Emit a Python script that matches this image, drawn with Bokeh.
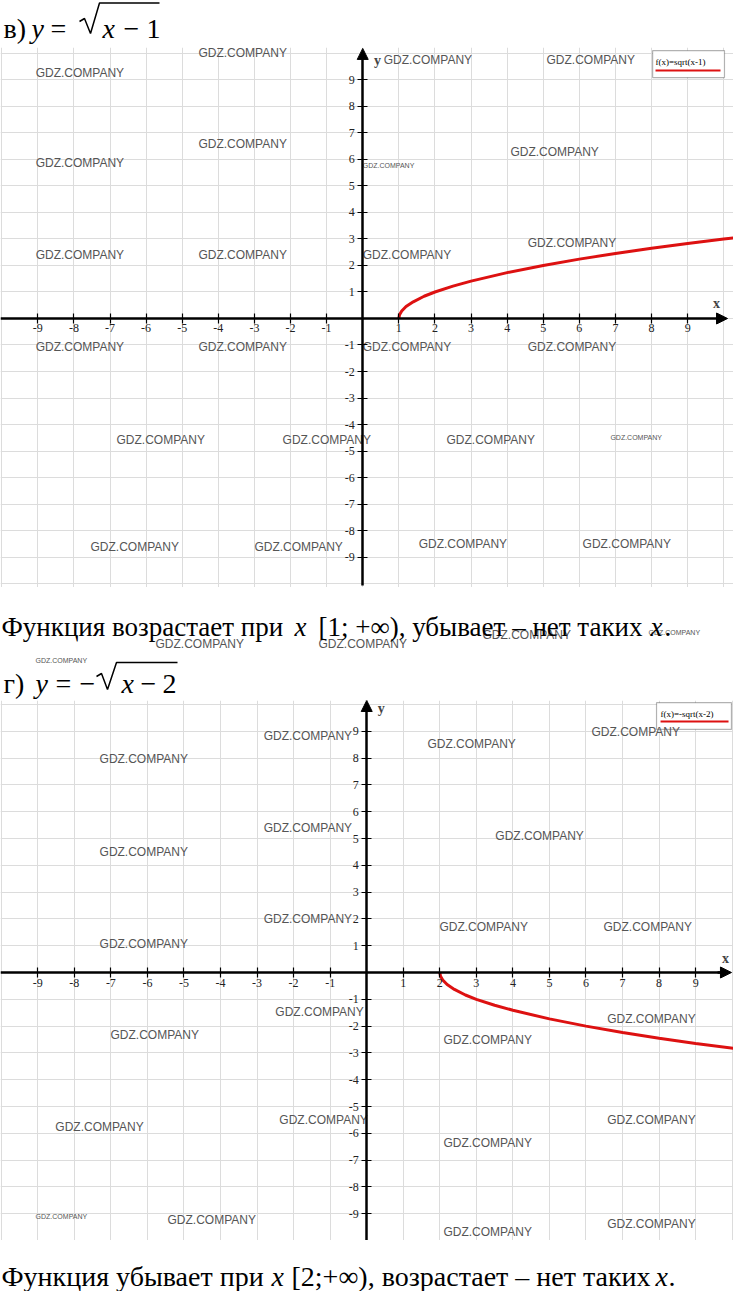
from bokeh.plotting import figure
from bokeh.models import (Range1d, LinearAxis, FixedTicker, Grid, Arrow, NormalHead,
                          BoxAnnotation, ColumnDataSource, Label)
from bokeh.layouts import column
from bokeh.core.properties import value
from bokeh.embed import file_html
from bokeh.resources import INLINE

WM_FONT = value("Liberation Sans")

# ---------------- data ----------------
tick_values = [-9, -8, -7, -6, -5, -4, -3, -2, -1, 1, 2, 3, 4, 5, 6, 7, 8, 9]
tick_labels = ["-9", "-8", "-7", "-6", "-5", "-4", "-3", "-2", "-1",
               "1", "2", "3", "4", "5", "6", "7", "8", "9"]
grid_values = list(range(-10, 11))

# curve 1: y = sqrt(x - 1)
curve1_x = [1.0, 1.02, 1.08, 1.2, 1.4, 1.7, 2.0, 2.5, 3.0, 4.0, 5.0, 6.0, 7.0, 8.0, 9.0, 10.0, 10.27]
curve1_y = [0.0, 0.14, 0.28, 0.45, 0.63, 0.84, 1.0, 1.22, 1.41, 1.73, 2.0, 2.24, 2.45, 2.65, 2.83, 3.0, 3.04]

# curve 2: y = -sqrt(x - 2)
curve2_x = [2.0, 2.02, 2.08, 2.2, 2.4, 2.7, 3.0, 3.5, 4.0, 5.0, 6.0, 7.0, 8.0, 9.0, 10.04]
curve2_y = [0.0, -0.14, -0.28, -0.45, -0.63, -0.84, -1.0, -1.22, -1.41, -1.73, -2.0, -2.24, -2.45, -2.65, -2.83]

legend1_text = "f(x)=sqrt(x-1)"
legend2_text = "f(x)=-sqrt(x-2)"

# headings / sentences split into roman and italic pieces
heading1_parts = ["в)", "y", "=", "x", "−", "1"]
heading1_italic = [False, True, False, True, False, False]
heading1_x = [3, 31, 50, 102, 123, 146]

sentence1_parts = ["Функция возрастает при", "x", "[1; +∞), убывает – нет таких", "x", "."]
sentence1_italic = [False, True, False, True, False]
sentence1_x = [1, 294, 318, 650, 664]

heading2_parts = ["г)", "y", "=", "−", "x", "−", "2"]
heading2_italic = [False, True, False, False, True, False, False]
heading2_x = [3, 35, 55, 79, 121, 140, 162]

sentence2_parts = ["Функция убывает при", "x", "[2;+∞), возрастает – нет таких", "x", "."]
sentence2_italic = [False, True, False, True, False]
sentence2_x = [1, 271, 291, 655, 668]

# watermarks ("GDZ.COMPANY") in data units of each plot
wm_label = "GDZ.COMPANY"
wm1_x = [-9.06, -4.55, 0.58, 5.09, -9.06, -4.55, 0.0, 4.09, -9.06, -4.55, 0.0, 4.57,
         -9.06, -4.55, 0.0, 4.57, -6.82, -2.22, 2.32, 6.86, -7.54, -3.00, 1.55, 6.09]
wm1_y = [9.28, 10.02, 9.77, 9.74, 5.85, 6.60, 5.77, 6.30, 2.38, 2.38, 2.38, 2.83,
         -1.09, -1.09, -1.09, -1.09, -4.57, -4.57, -4.57, -4.49, -8.64, -8.64, -8.49, -8.49]
wm1_small = [False, False, False, False, False, False, True, False, False, False, False, False,
             False, False, False, False, False, False, False, True, False, False, False, False]

wm2_x = [-2.82, 1.66, 6.15, -7.31, -2.82, 3.52, -7.31, -2.82, 1.99, 6.48, -7.31,
         -2.50, -7.01, 2.10, 6.58, -2.39, -8.52, 2.10, 6.58, -9.06, -5.45, 2.10, 6.58]
wm2_y = [8.84, 8.54, 8.99, 7.95, 5.41, 5.11, 4.51, 1.98, 1.68, 1.68, 1.08,
         -1.46, -2.35, -2.50, -1.75, -5.49, -5.78, -6.38, -5.49, -9.10, -9.22, -9.70, -9.37]
wm2_small = [False] * 19 + [True, False, False, False]

wm_mid_x = [155, 318, 482, 648, 35]
wm_mid_y = [643, 643, 634, 632, 660]
wm_mid_small = [False, False, False, True, True]

RED = "#dd1111"
WM_COLOR = "#555555"
W = 733


def add_watermarks(p, xs, ys, small):
    big = [i for i in range(len(xs)) if not small[i]]
    sm = [i for i in range(len(xs)) if small[i]]
    for idx, size in ((big, "12px"), (sm, "7px")):
        if not idx:
            continue
        src = ColumnDataSource(dict(x=[xs[i] for i in idx], y=[ys[i] for i in idx],
                                    t=[wm_label] * len(idx)))
        p.text(x="x", y="y", text="t", source=src, text_font=WM_FONT,
               text_font_size=size, text_color=WM_COLOR, text_baseline="middle",
               text_align="left")


def make_plot(height, xr, yr, xb, yb, xarrow, yarrow, cx, cy, lab_x, lab_y,
              box, leg_text, leg_pos, leg_line, wx, wy, ws):
    p = figure(width=W, height=height, x_range=Range1d(*xr), y_range=Range1d(*yr),
               x_axis_type=None, y_axis_type=None, min_border=0,
               outline_line_color=None, toolbar_location=None, output_backend="svg",
               background_fill_color="white", border_fill_color="white")
    for dim in (0, 1):
        g = Grid(dimension=dim, ticker=FixedTicker(ticks=grid_values),
                 grid_line_color="#dcdcdc", grid_line_width=1)
        p.add_layout(g)
    p.add_layout(BoxAnnotation(left=box[0], right=box[1], bottom=box[2], top=box[3],
                               fill_color="white", fill_alpha=1.0, line_color="black",
                               line_width=1.2, level="underlay"))
    add_watermarks(p, wx, wy, ws)
    p.line(cx, cy, line_color=RED, line_width=3)
    p.add_layout(Label(x=leg_pos[0], y=leg_pos[1], text=leg_text,
                       text_font="Liberation Serif", text_font_size="9px",
                       text_color="black", text_baseline="middle"))
    p.segment(x0=[leg_line[0]], x1=[leg_line[1]], y0=[leg_line[2]], y1=[leg_line[2]],
              line_color=RED, line_width=2)

    overrides = {v: s for v, s in zip(tick_values, tick_labels)}
    common = dict(fixed_location=0, ticker=FixedTicker(ticks=tick_values),
                  major_label_overrides=overrides,
                  axis_line_width=2.5, axis_line_color="black",
                  major_tick_in=5, major_tick_out=5, major_tick_line_width=1.2,
                  minor_tick_line_color=None,
                  major_label_text_font="Liberation Serif", major_label_text_font_size="12px",
                  major_label_text_color="#222222")
    xa = LinearAxis(bounds=xb, major_label_standoff=1, **common)
    ya = LinearAxis(bounds=yb, major_label_standoff=3, **common)
    p.add_layout(xa, "below")
    p.add_layout(ya, "left")
    p.add_layout(Arrow(end=NormalHead(size=11, fill_color="black", line_color="black"),
                       x_start=xarrow[0], x_end=xarrow[1], y_start=0, y_end=0,
                       line_width=2.5, line_color="black"))
    p.add_layout(Arrow(end=NormalHead(size=11, fill_color="black", line_color="black"),
                       x_start=0, x_end=0, y_start=yarrow[0], y_end=yarrow[1],
                       line_width=2.5, line_color="black"))
    for t, (lx, ly) in (("x", lab_x), ("y", lab_y)):
        p.add_layout(Label(x=lx, y=ly, text=t, text_font="Liberation Serif",
                           text_font_style="bold", text_font_size="14px",
                           text_baseline="middle", text_align="center"))
    return p


def make_text_fig(top, bottom):
    p = figure(width=W, height=bottom - top, x_range=Range1d(0, W),
               y_range=Range1d(bottom, top), x_axis_type=None, y_axis_type=None,
               min_border=0, outline_line_color=None, toolbar_location=None,
               output_backend="svg", background_fill_color="white",
               border_fill_color="white")
    p.grid.visible = False
    return p


def add_parts(p, parts, italic, xs, baseline, size="27px"):
    for t, it, x in zip(parts, italic, xs):
        p.add_layout(Label(x=x, y=baseline, text=t, text_font="Liberation Serif",
                           text_font_style="italic" if it else "normal",
                           text_font_size=size, text_color="black",
                           text_baseline="alphabetic", text_align="left"))


def add_radical(p, x0, x_end, top, bottom, mid):
    # radical sign drawn as a stroke, joined to the vinculum over the radicand
    p.line([x0, x0 + 5, x0 + 11, x0 + 20, x_end],
           [mid, mid - 3, bottom, top, top], line_color="black", line_width=1.5)


# heading 1  (page rows 0..47)
fa = make_text_fig(0, 47)
add_parts(fa, heading1_parts, heading1_italic, heading1_x, 28, "28px")
add_radical(fa, 79, 159, 2.5, 33, 21)

# plot 1  (page rows 47..587)
p1 = make_plot(540, (-10.033, 10.27), (-10.15, 10.225), (-10.033, 9.95), (-10.08, 10.0),
               (9.8, 10.105), (9.8, 10.19), curve1_x, curve1_y, (9.8, 0.57), (0.41, 9.74),
               (8.03, 10.02, 9.09, 10.11), legend1_text, (8.11, 9.66), (8.11, 9.91, 9.36),
               wm1_x, wm1_y, wm1_small)

# sentence 1 and heading 2  (page rows 587..700)
fc = make_text_fig(587, 700)
add_parts(fc, sentence1_parts, sentence1_italic, sentence1_x, 626)
add_watermarks(fc, wm_mid_x, wm_mid_y, wm_mid_small)
add_parts(fc, heading2_parts, heading2_italic, heading2_x, 683, "28px")
add_radical(fc, 96, 177, 662, 689, 676)

# plot 2  (page rows 700..1240)
p2 = make_plot(540, (-10.02, 10.036), (-10.0, 10.15), (-10.02, 9.8), (-10.0, 9.95),
               (9.6, 9.98), (9.75, 10.15), curve2_x, curve2_y, (9.82, 0.52), (0.40, 9.85),
               (7.93, 9.98, 9.07, 10.07), legend2_text, (8.04, 9.66), (8.04, 9.9, 9.37),
               wm2_x, wm2_y, wm2_small)

# sentence 2  (page rows 1240..1291)
fe = make_text_fig(1240, 1291)
add_parts(fe, sentence2_parts, sentence2_italic, sentence2_x, 1276, "28px")

layout = column(fa, p1, fc, p2, fe, spacing=0)
open("out.html", "w").write(file_html(layout, INLINE))
